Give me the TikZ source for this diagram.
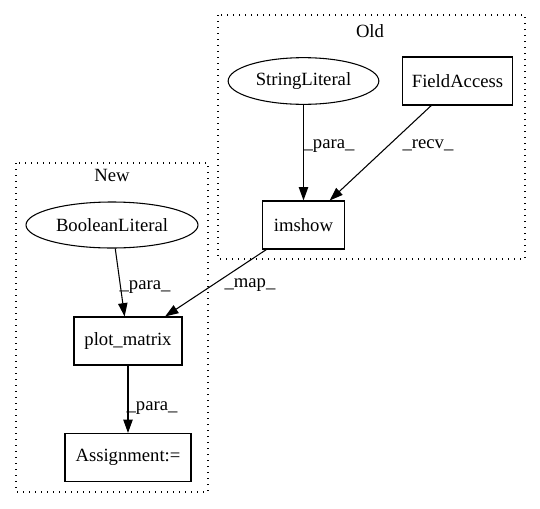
\documentclass[tikz,border=0pt]{standalone}
\usepackage{fontspec}
\setmainfont{Liberation Serif}
\usetikzlibrary{arrows.meta,shapes.geometric}
\begin{document}
\begin{tikzpicture}[x=0.75pt,y=-0.75pt,
  txt/.style={font=\fontsize{14}{16}\selectfont},
  box/.style={txt, draw, line width=0.8pt, rectangle, minimum height=36pt, inner sep=0pt},
  oval/.style={txt, draw, line width=0.8pt, ellipse, inner sep=0pt},
  edge/.style={-{Triangle[length=10pt,width=7pt]}, line width=0.8pt},
  lbl/.style={txt, inner sep=0pt},
  cluster/.style={draw, dash pattern=on 1pt off 3.5pt, line width=0.9pt}]
\useasboundingbox (0,0) rectangle (540,508);
% clusters
\draw[cluster] (218,15) rectangle (525,259);
\node[lbl] (oldlbl) at (370,31) {Old};
\draw[cluster] (16,163) rectangle (208,492);
\node[lbl] (newlbl) at (112,175) {New};
% nodes
\node[oval, minimum width=113pt, minimum height=35pt] (sl) at (303.5,81) {StringLiteral};
\node[box, minimum width=83pt] (fa) at (457.5,81) {FieldAccess};
\node[box, minimum width=61pt] (im) at (303.5,225) {imshow};
\node[oval, minimum width=129pt, minimum height=34.5pt] (bl) at (112,225) {BooleanLiteral};
\node[box, minimum width=81pt] (pm) at (128,341) {plot\_matrix};
\node[box, minimum width=94.5pt] (as) at (128,457.5) {Assignment:=};
% edges
\draw[edge] (sl) -- (im);
\draw[edge] (fa) -- (im);
\draw[edge] (im) -- (pm);
\draw[edge] (bl) -- (pm);
\draw[edge] (pm) -- (as);
% labels
\node[lbl] (l1) at (329,146) {\_para\_};
\node[lbl] (l2) at (428,145) {\_recv\_};
\node[lbl] (l3) at (145,287) {\_para\_};
\node[lbl] (l4) at (250,285) {\_map\_};
\node[lbl] (l5) at (152,408) {\_para\_};
\end{tikzpicture}
\end{document}
